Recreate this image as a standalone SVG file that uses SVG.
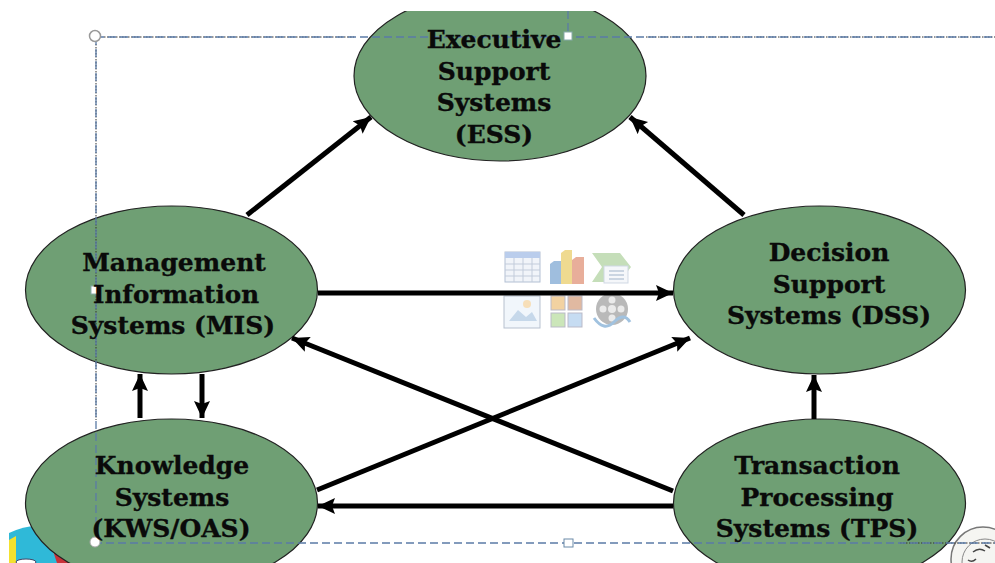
<svg xmlns="http://www.w3.org/2000/svg" width="995" height="563" viewBox="0 0 995 563">
<style>
.n{fill:#6f9f74;stroke:#222;stroke-width:1.2}
.t{font-family:"DejaVu Serif","Liberation Serif",serif;font-weight:bold;font-size:25px;fill:#0a0a0a;stroke:#0a0a0a;stroke-width:.35;text-anchor:middle}
.c{stroke:#000;stroke-width:5;fill:none;marker-end:url(#a)}
.s{fill:none;stroke:#5b7ba6;stroke-width:1.3;stroke-dasharray:8 4}
.d{fill:none;stroke:#333;stroke-width:1;stroke-dasharray:1.5 1.5}
</style>
<defs>
<marker id="a" markerUnits="userSpaceOnUse" markerWidth="18" markerHeight="18" refX="17" refY="9" orient="auto"><path d="M0 1L17 9L0 17L3 9Z" fill="#000"/></marker>
<clipPath id="top"><rect x="0" y="11" width="995" height="552"/></clipPath>
<filter id="b" x="-5%" y="-5%" width="110%" height="110%"><feGaussianBlur stdDeviation=".6"/></filter>
</defs>
<rect width="995" height="563" fill="#fff"/>
<g id="decor-left">
<path d="M9 563V533Q24 526 36 526L60 563Z" fill="#2fb9d8"/>
<path d="M9 540L16 536V563H9Z" fill="#f3e12f"/>
<path d="M52 548L70 563H57Z" fill="#c9323a"/>
<ellipse cx="26" cy="562" rx="10" ry="3" fill="#fff" stroke="#446" stroke-width="1"/>
</g>
<g id="decor-right">
<circle cx="983" cy="559" r="32" fill="#f5f5f2" stroke="#777" stroke-width="1.5"/>
<circle cx="985" cy="562" r="23" fill="none" stroke="#888" stroke-width="1"/>
<path d="M973 552q6-5 12-1M968 560q4 3 8-1M985 545l5 3" fill="none" stroke="#444" stroke-width="1.500"/>
</g>
<g id="ess"><g clip-path="url(#top)"><ellipse class="n" cx="500" cy="76" rx="146" ry="85"/></g></g>
<g id="mis"><ellipse class="n" cx="171.500" cy="290" rx="146" ry="84"/></g>
<g id="dss"><ellipse class="n" cx="819.500" cy="290" rx="146" ry="84"/></g>
<g id="kws"><ellipse class="n" cx="171.500" cy="503" rx="146" ry="84"/></g>
<g id="tps"><ellipse class="n" cx="819.500" cy="503" rx="146" ry="84"/></g>
<g id="icons" opacity=".8" filter="url(#b)">
<rect x="505" y="252" width="35" height="30" fill="#eef2f8" stroke="#9fb0c8"/>
<rect x="505" y="252" width="35" height="6" fill="#a9c1e8"/>
<path d="M505 264h35M505 270h35M505 276h35M514 258v24M523 258v24M532 258v24" stroke="#b4c0d2" fill="none"/>
<path d="M550 264l4-3h7v23h-11Z" fill="#88aed6"/>
<path d="M561 253l4-3h7v34h-11Z" fill="#ecd175"/>
<path d="M572 260l4-3h8v27h-12Z" fill="#e39a82"/>
<path d="M592 253H620L631 267L620 282H592L602 267Z" fill="#b7d7a8"/>
<rect x="604" y="266" width="24" height="17" fill="#f3f6fa" stroke="#c5cfdd"/>
<path d="M609 271h15M609 275h15M609 279h15" stroke="#8aa0bb"/>
<rect x="504" y="296" width="36" height="32" fill="#eef4fb" stroke="#a6b2c2"/>
<path d="M509 321L518 310L526 317L532 312L537 321Z" fill="#b9cfe6"/>
<circle cx="527" cy="304" r="4" fill="#f6d8a8"/>
<rect x="551" y="296" width="14" height="14" fill="#f0c88a" stroke="#aab"/>
<rect x="568" y="296" width="14" height="14" fill="#d9a88a" stroke="#aab"/>
<rect x="551" y="313" width="14" height="14" fill="#bfe0a8" stroke="#aab"/>
<rect x="568" y="313" width="14" height="14" fill="#b8d4f0" stroke="#aab"/>
<circle cx="612" cy="309" r="16" fill="#a8a8a8"/>
<circle cx="612" cy="309" r="4" fill="#e6e6e6"/>
<circle cx="612" cy="300" r="3.500" fill="#e6e6e6"/><circle cx="603" cy="309" r="3.500" fill="#e6e6e6"/><circle cx="621" cy="309" r="3.500" fill="#e6e6e6"/><circle cx="612" cy="318" r="3.500" fill="#e6e6e6"/>
<path d="M594 318Q604 332 614 322T630 322" fill="none" stroke="#8ab4d8" stroke-width="3"/>
</g>
<g id="connectors">
<path class="c" d="M247 215L371 117"/>
<path class="c" d="M744 215L630 117"/>
<path class="c" d="M318 293H673"/>
<path class="c" d="M140 418V374"/>
<path class="c" d="M202 374V418"/>
<path class="c" d="M814 419V375"/>
<path class="c" d="M673 491L292 338"/>
<path class="c" d="M317 490L690 338"/>
<path class="c" d="M673 506H318"/>
</g>
<g id="selection">
<path class="d" d="M104 37H354M646 37H995M96 44V420M900 543H995"/>
<path class="s" d="M96 37H995M96 37V543H995M568 11V36"/>
<circle cx="95" cy="36" r="5.500" fill="#fff" stroke="#999" stroke-width="1.500"/>
<rect x="564" y="32" width="8" height="8" fill="#fff" stroke="#8aa"/>
<rect x="91" y="286" width="8" height="8" fill="#fff" stroke="#8aa"/>
<circle cx="95" cy="542" r="5" fill="#fff" stroke="#aaa"/>
<rect x="564" y="539" width="9" height="8" fill="#fff" stroke="#6a8aa8"/>
</g>
<g id="labels">
<text class="t"><tspan x="494" y="48">Executive</tspan><tspan x="494" y="80">Support</tspan><tspan x="494" y="111">Systems</tspan><tspan x="494" y="143">(ESS)</tspan></text>
<text class="t"><tspan x="174" y="271">Management</tspan><tspan x="176" y="303" textLength="166" lengthAdjust="spacingAndGlyphs">Information</tspan><tspan x="173" y="334">Systems (MIS)</tspan></text>
<text class="t"><tspan x="829" y="261">Decision</tspan><tspan x="829" y="293">Support</tspan><tspan x="829" y="324">Systems (DSS)</tspan></text>
<text class="t"><tspan x="172" y="474">Knowledge</tspan><tspan x="172" y="506">Systems</tspan><tspan x="171" y="537">(KWS/OAS)</tspan></text>
<text class="t"><tspan x="817" y="474">Transaction</tspan><tspan x="817" y="506">Processing</tspan><tspan x="817" y="537">Systems (TPS)</tspan></text>
</g>
</svg>
